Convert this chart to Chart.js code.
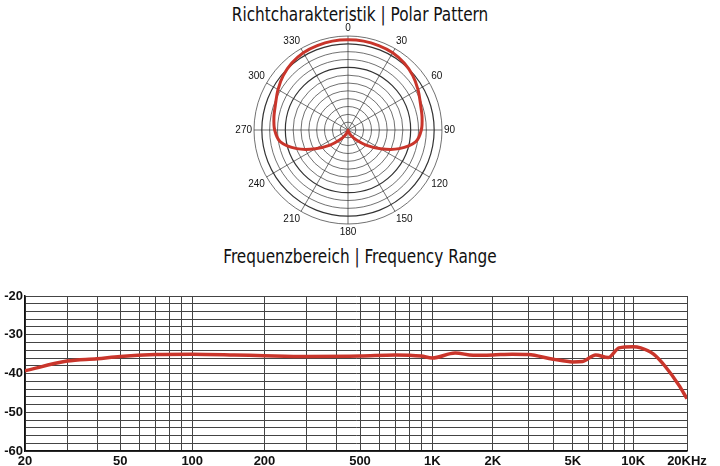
<!DOCTYPE html>
<html><head><meta charset="utf-8">
<script src="https://cdn.jsdelivr.net/npm/chart.js@4/dist/chart.umd.min.js"></script>
<style>
  body { margin:0; width:720px; height:466px; background:#fff; position:relative; overflow:hidden;
         font-family:'Liberation Sans Narrow','DejaVu Sans Condensed','Liberation Sans',sans-serif; }
  .title { position:absolute; left:0; width:720px; text-align:center; font-size:20px; color:#111; transform:scaleX(0.85); }
  #polarWrap { position:absolute; left:226px; top:22px; width:240px; height:216px; }
  #freqWrap  { position:absolute; left:0; top:285px; width:720px; height:181px; }
</style></head>
<body>
<div class="title" style="top:2px">Richtcharakteristik | Polar Pattern</div>
<div class="title" style="top:244px">Frequenzbereich | Frequency Range</div>
<div id="polarWrap"><canvas id="polar" width="240" height="216"></canvas></div>
<div id="freqWrap"><canvas id="freq" width="720" height="181"></canvas></div>
<script>
// polar pattern, one value every 10 degrees (0 = front), relative level 0..1
const polarAngles = [0,10,20,30,40,50,60,70,80,90,100,110,120,130,140,150,160,170,
                     180,190,200,210,220,230,240,250,260,270,280,290,300,310,320,330,340,350];
const polarLevels = [0.96,0.96,0.955,0.95,0.93,0.9,0.86,0.82,0.8,0.78,0.73,0.58,0.4,0.25,0.14,0.07,0.03,0.01,
                     0,0.01,0.03,0.07,0.14,0.25,0.4,0.58,0.73,0.78,0.8,0.82,0.86,0.9,0.93,0.95,0.955,0.96];

// frequency response
const freqHz  = [20,30,40,50,70,100,150,200,300,500,700,900,1000,1300,1600,2000,2500,3000,
                 4000,5000,5600,6500,7500,8500,10000,11000,13000,15000,18000,20000];
const levelDb = [-39.3,-36.8,-36.2,-35.6,-35.1,-35.0,-35.2,-35.4,-35.6,-35.5,-35.2,-35.5,-36.0,-34.7,-35.3,-35.2,-35.0,-35.1,
                 -36.3,-37.0,-36.9,-35.2,-35.9,-33.4,-33.1,-33.4,-35.0,-38.0,-43.0,-46.5];
const freqGrid = [20,30,40,50,60,70,80,90,100,200,300,400,500,600,700,800,900,1000,
                  2000,3000,4000,5000,6000,7000,8000,9000,10000,20000];
const freqLabels = {20:'20',50:'50',100:'100',200:'200',500:'500',1000:'1K',2000:'2K',5000:'5K',10000:'10K',20000:'20KHz'};
// the printed axis is not evenly logarithmic: each decade has its own width (share of axis)
const axisAnchors = [20, 100, 1000, 10000, 20000];
const anchorShare = [0, 0.2526, 0.6152, 0.9188, 1];

// log scale whose decades are stretched to match the printed grid
class PiecewiseLogScale extends Chart.LogarithmicScale {
    getPixelForValue(value) {
        const lv = Math.log10(value);
        let i = 0;
        while (i < axisAnchors.length - 2 && value > axisAnchors[i + 1]) i++;
        const a = Math.log10(axisAnchors[i]), b = Math.log10(axisAnchors[i + 1]);
        const t = (lv - a) / (b - a);
        const share = anchorShare[i] + t * (anchorShare[i + 1] - anchorShare[i]);
        return this.getPixelForDecimal(share);
    }
}
PiecewiseLogScale.id = 'piecewiseLog';
PiecewiseLogScale.defaults = Chart.LogarithmicScale.defaults;
Chart.register(PiecewiseLogScale);

const RED = '#c9352b';
const tickFont = { family:"'Liberation Sans','DejaVu Sans',sans-serif", size:13, weight:'bold' };

new Chart(document.getElementById('polar'), {
    type: 'radar',
    data: {
        labels: polarAngles.map(String),
        datasets: [{ data: polarLevels.map(v => v * 12), borderColor: RED, borderWidth: 3,
                     pointRadius: 0, fill: false, tension: 0.3 }]
    },
    options: {
        responsive: false, animation: false,
        plugins: { legend: { display: false }, tooltip: { enabled: false } },
        scales: { r: {
            min: 0, max: 12,
            ticks: { stepSize: 1, display: false },
            grid: { circular: true, color: '#333', lineWidth: c => (c.index === 8 || c.index === 11 ? 1.2 : 0.7) },
            angleLines: { color: c => (c.index % 3 === 0 ? '#333' : 'rgba(0,0,0,0)'), lineWidth: 0.7 },
            pointLabels: {
                padding: 2, color: '#111',
                font: { family:"'Liberation Sans','DejaVu Sans',sans-serif", size: 10 },
                callback: (l, i) => (i % 3 === 0 ? l : '')
            }
        } }
    }
});

new Chart(document.getElementById('freq'), {
    type: 'line',
    data: { datasets: [{
        data: freqHz.map((f, i) => ({ x: f, y: levelDb[i] })),
        borderColor: RED, borderWidth: 3.5, pointRadius: 0, tension: 0.4, cubicInterpolationMode: 'monotone'
    }] },
    options: {
        responsive: false, animation: false,
        layout: { padding: { top: 11, right: 33, left: 0, bottom: 0 } },
        plugins: { legend: { display: false }, tooltip: { enabled: false } },
        scales: {
            x: {
                type: 'piecewiseLog', min: 20, max: 20000,
                afterBuildTicks: ax => { ax.ticks = freqGrid.map(v => ({ value: v })); },
                afterFit: ax => { ax.height = 15; },
                grid: { color: '#444', lineWidth: 1, drawTicks: false },
                border: { color: '#111', width: 1.5 },
                ticks: { autoSkip: false, maxRotation: 0, color: '#111', font: tickFont, padding: 3,
                         callback: v => freqLabels[v] || '' }
            },
            y: {
                min: -60, max: -20,
                afterFit: ax => { ax.width = 25; },
                grid: { color: '#444', lineWidth: 1, drawTicks: false },
                border: { color: '#111', width: 1.5 },
                ticks: { stepSize: 2, autoSkip: false, color: '#111', font: tickFont, padding: 2,
                         callback: v => (v % 10 === 0 ? String(v) : '') }
            }
        }
    }
});
</script>
</body></html>
